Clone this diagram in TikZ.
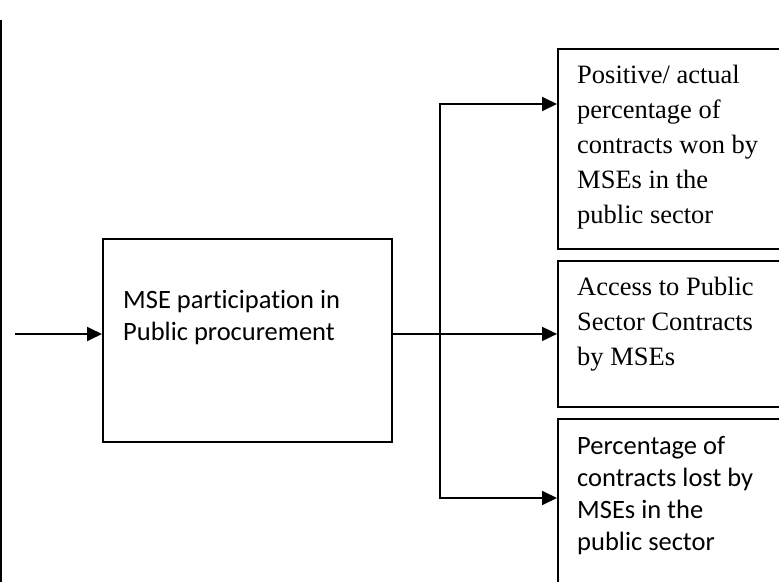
\documentclass[tikz,border=0pt]{standalone}
\usepackage{fontspec}
\setmainfont{Liberation Serif}
\newfontfamily\boxsans[Ligatures=NoCommon]{Carlito}
\usetikzlibrary{positioning,arrows.meta}
\tikzset{
  box/.style={draw,rectangle,line width=1.6pt,minimum width=7.2cm,
    anchor=north west,inner sep=0pt},
  sanstext/.style={anchor=north west,inner sep=0pt,align=left,
    font=\boxsans\fontsize{22.6}{27.3}\selectfont},
  seriftext/.style={anchor=north west,inner sep=0pt,align=left,
    font=\fontsize{22.6}{29.9}\selectfont},
  link/.style={line width=1.6pt,-{Triangle[length=0.45cm,width=0.42cm]}}
}
\begin{document}
\begin{tikzpicture}[x=0.03cm,y=-0.03cm]
    \clip (0,0) rectangle (779,581);
    \useasboundingbox (0,0) rectangle (779,581);
    %% Left border
    \draw[line width=1.6pt] (1,20) -- (1,600);
    %% Main box
    \node[box,minimum width=8.67cm,minimum height=6.09cm] (mse) at (102,238) {};
    \node[sanstext,below right=1.57cm and 0.63cm of mse.north west]
        (mseText) {MSE participation in\\Public procurement};
    %% Outcome boxes
    \node[box,minimum height=6cm] (won) at (557,48) {};
    \node[seriftext,below right=0.51cm and 0.6cm of won.north west]
        (wonText) {Positive/ actual\\percentage of\\contracts won by\\MSEs in the\\public sector};
    \node[box,minimum height=4.38cm] (access) at (557,260) {};
    \node[seriftext,below right=0.51cm and 0.6cm of access.north west]
        (accessText) {Access to Public\\Sector Contracts\\by MSEs};
    \node[box,minimum height=5.8cm] (lost) at (557,418) {};
    \node[sanstext,below right=0.55cm and 0.6cm of lost.north west]
        (lostText) {Percentage of\\contracts lost by\\MSEs in the\\public sector};
    %% Arrows
    \coordinate (in) at (15,334);
    \draw[link] (in) -- (in -| mse.west);
    \draw[link] (mse.east |- access.west) -- (access.west);
    \coordinate (wonTurn) at (440,104);
    \coordinate (lostTurn) at (440,498);
    \draw[link] (lostTurn) -- (wonTurn) -- (wonTurn -| won.west);
    \draw[link] (wonTurn) -- (lostTurn) -- (lostTurn -| lost.west);
\end{tikzpicture}
\end{document}
